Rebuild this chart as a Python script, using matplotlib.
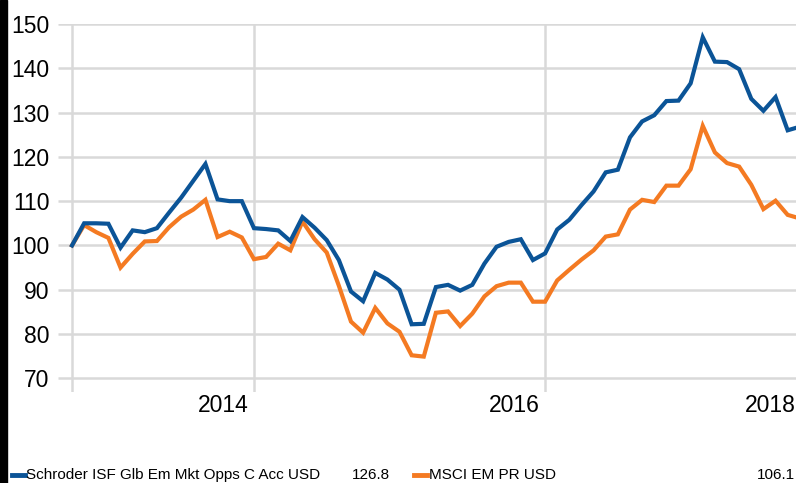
import matplotlib
matplotlib.use("Agg")
import matplotlib.pyplot as plt
from matplotlib.lines import Line2D
from matplotlib.patches import Rectangle

plt.rcParams['font.family'] = ['Liberation Sans', 'DejaVu Sans']

# monthly index values, rebased to 100
fund = [100.0, 105.0, 105.0, 104.9, 99.5, 103.4, 103.0, 103.9, 107.4, 110.8,
        114.6, 118.4, 110.4, 110.0, 110.0, 103.9, 103.7, 103.4, 101.0, 106.4,
        104.0, 101.2, 96.7, 89.6, 87.4, 93.8, 92.3, 90.0, 82.2, 82.3,
        90.6, 91.1, 89.8, 91.1, 95.9, 99.7, 100.8, 101.4, 96.7, 98.2,
        103.6, 105.8, 109.1, 112.2, 116.5, 117.1, 124.4, 128.0, 129.4, 132.6,
        132.7, 136.6, 147.0, 141.5, 141.4, 139.8, 133.1, 130.4, 133.5, 126.0,
        126.8]
index = [100.0, 104.6, 103.0, 101.7, 95.0, 98.1, 100.9, 101.0, 104.1, 106.5,
         108.1, 110.3, 101.9, 103.1, 101.8, 96.9, 97.4, 100.4, 98.9, 105.4,
         101.4, 98.4, 90.9, 82.8, 80.3, 85.9, 82.4, 80.5, 75.2, 74.9,
         84.8, 85.1, 81.8, 84.6, 88.5, 90.8, 91.6, 91.6, 87.3, 87.3,
         92.1, 94.5, 96.8, 98.9, 102.0, 102.5, 108.1, 110.3, 109.8, 113.5,
         113.5, 117.2, 127.0, 121.0, 118.6, 117.8, 113.7, 108.2, 110.1, 106.9,
         106.1]
months = list(range(len(fund)))

fund_name = 'Schroder ISF Glb Em Mkt Opps C Acc USD'
index_name = 'MSCI EM PR USD'
year_labels = ['2014', '2016', '2018']
year_pos = [15, 39, 63]
yticks = [70, 80, 90, 100, 110, 120, 130, 140, 150]

blue = '#0b5497'
orange = '#f47a22'
grid = '#d9d9d9'

W, H = 796, 483
fig = plt.figure(figsize=(W / 100, H / 100), dpi=100)
fig.patches.append(Rectangle((0, 0), 7 / W, 1, transform=fig.transFigure,
                             color='black', zorder=0))

px_month = 12.13
left_px, right_px, top_px, bot_px = 58, 796, 24, 392
ax = fig.add_axes([left_px / W, 1 - bot_px / H, (right_px - left_px) / W,
                   (bot_px - top_px) / H])
x0 = -(72 - left_px) / px_month
x1 = (right_px - 72) / px_month
ax.set_xlim(x0, x1)
ymin = 70 - (bot_px - 378.3) / 4.43
ax.set_ylim(ymin, 150)

for s in ax.spines.values():
    s.set_visible(False)
ax.tick_params(length=0)

for v in yticks:
    ax.plot([x0, x1], [v, v], color=grid, lw=1.8, zorder=1, solid_capstyle='butt')
for p in [0] + year_pos:
    ax.plot([p, p], [ymin, 150], color=grid, lw=1.8, zorder=1, solid_capstyle='butt')

ax.plot(months, index, color=orange, lw=3, zorder=3, solid_joinstyle='miter')
ax.plot(months, fund, color=blue, lw=3, zorder=4, solid_joinstyle='miter')

ax.set_xticks([])
ax.set_yticks(yticks)
ax.set_yticklabels([str(v) for v in yticks], fontsize=16.5)
ax.tick_params(axis='y', pad=6)

for lab, p in zip(year_labels, year_pos):
    xp = min(p - 0.4, x1)
    ax.text(xp, 66.4, lab, ha='right', va='top', fontsize=16.5, clip_on=False)

# legend row
ly = 1 - 475 / H
fig.add_artist(Line2D([12 / W, 25 / W], [ly, ly], color=blue, lw=3.5))
fig.text(26 / W, ly, fund_name, fontsize=11.0, va='center')
fig.text(352 / W, ly, f'{fund[-1]:.1f}', fontsize=11.0, va='center')
fig.add_artist(Line2D([414 / W, 427 / W], [ly, ly], color=orange, lw=3.5))
fig.text(429 / W, ly, index_name, fontsize=11.0, va='center')
fig.text(795 / W, ly, f'{index[-1]:.1f}', fontsize=11.0, va='center', ha='right')

fig.savefig('out.png', dpi=100)
